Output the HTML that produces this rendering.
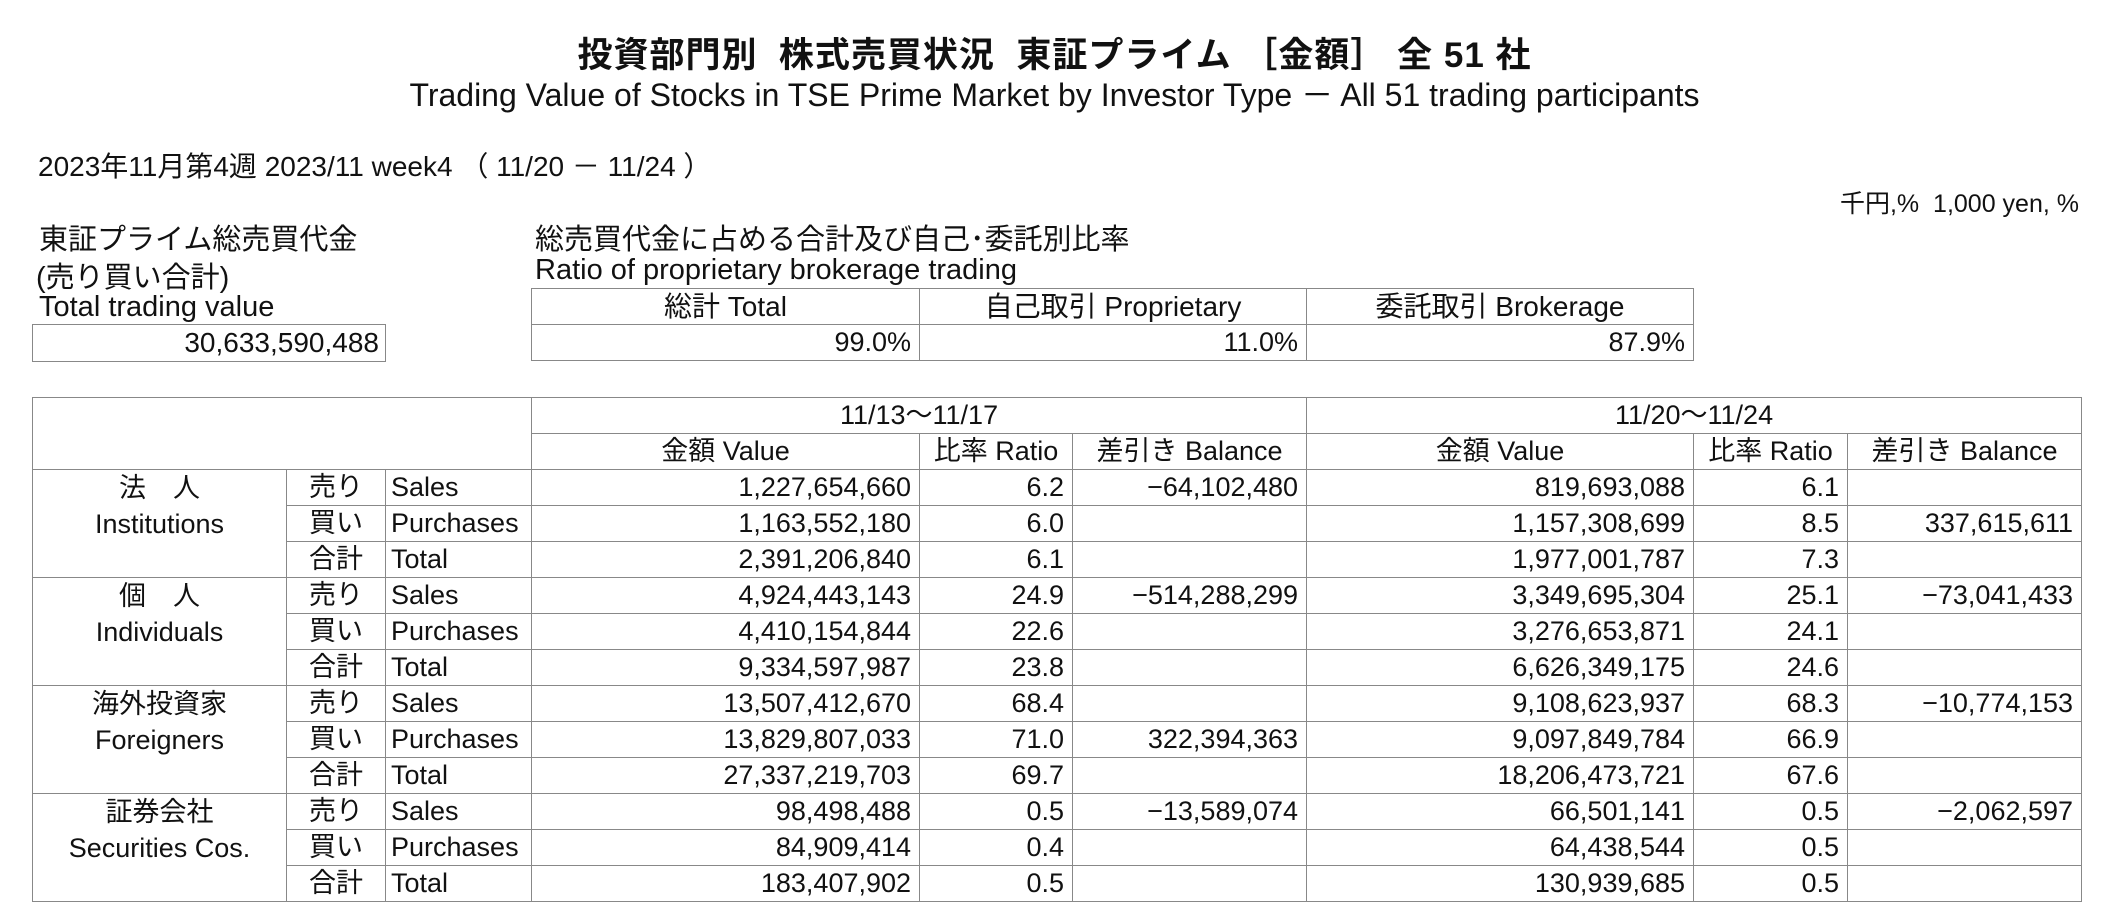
<!DOCTYPE html>
<html><head><meta charset="utf-8"><style>
body{margin:0;width:2109px;height:918px;background:#fff;position:relative;overflow:hidden;font-family:"Liberation Sans","Noto Sans CJK JP",sans-serif;color:#111}
.a{position:absolute;white-space:nowrap}
table{border-collapse:collapse;table-layout:fixed;position:absolute}
td{border:1.5px solid #888;padding:0 8px;font-size:27px;height:35px;line-height:35px;white-space:nowrap;overflow:hidden}
.r{text-align:right}.c{text-align:center}.l{text-align:left;padding-left:5px}
.g{vertical-align:top;text-align:center;line-height:36px;padding:0}
</style></head><body>
<div class="a" style="left:0;width:2109px;text-align:center;top:27px;font-size:35px;font-weight:bold;letter-spacing:1px">投資部門別&nbsp; 株式売買状況&nbsp; 東証プライム ［金額］ 全 51 社</div>
<div class="a" style="left:0;width:2109px;text-align:center;top:70px;font-size:32px">Trading Value of Stocks in TSE Prime Market by Investor Type － All 51 trading participants</div>
<div class="a" style="left:38px;top:145px;font-size:28px">2023年11月第4週 2023/11 week4 （ 11/20 － 11/24 ）</div>
<div class="a" style="right:30px;top:184px;font-size:25px">千円,%&nbsp; 1,000 yen, %</div>
<div class="a" style="left:39px;top:216px;font-size:29px">東証プライム総売買代金</div>
<div class="a" style="left:36px;top:254px;font-size:29px">(売り買い合計)</div>
<div class="a" style="left:39px;top:291px;font-size:29px">Total trading value</div>
<div class="a" style="left:32px;top:324px;width:352px;height:36px;border:1.5px solid #888;font-size:28px;text-align:right;line-height:36px"><span style="padding-right:6px">30,633,590,488</span></div>
<div class="a" style="left:535px;top:216px;font-size:29px">総売買代金に占める合計及び自己･委託別比率</div>
<div class="a" style="left:535px;top:254px;font-size:29px">Ratio of proprietary brokerage trading</div>
<table style="left:531px;top:288px;width:1162px">
<colgroup><col style="width:388px"><col style="width:387px"><col style="width:387px"></colgroup>
<tr><td class="c" style="font-size:28px">総計 Total</td><td class="c" style="font-size:28px">自己取引 Proprietary</td><td class="c" style="font-size:28px">委託取引 Brokerage</td></tr>
<tr><td class="r">99.0%</td><td class="r">11.0%</td><td class="r">87.9%</td></tr>
</table>
<table style="left:32px;top:397px;width:2049px">
<colgroup><col style="width:254px"><col style="width:99px"><col style="width:146px"><col style="width:388px"><col style="width:153px"><col style="width:234px"><col style="width:387px"><col style="width:154px"><col style="width:234px"></colgroup>
<tr><td colspan="3" rowspan="2"></td><td colspan="3" class="c">11/13～11/17</td><td colspan="3" class="c">11/20～11/24</td></tr>
<tr><td class="c">金額 Value</td><td class="c" style="padding:0">比率 Ratio</td><td class="c" style="padding:0">差引き Balance</td><td class="c">金額 Value</td><td class="c" style="padding:0">比率 Ratio</td><td class="c" style="padding:0">差引き Balance</td></tr>

<tr><td rowspan="3" class="g">法　人<br>Institutions</td><td class="c">売り</td><td class="l">Sales</td><td class="r">1,227,654,660</td><td class="r">6.2</td><td class="r">−64,102,480</td><td class="r">819,693,088</td><td class="r">6.1</td><td class="r"></td></tr>
<tr><td class="c">買い</td><td class="l">Purchases</td><td class="r">1,163,552,180</td><td class="r">6.0</td><td class="r"></td><td class="r">1,157,308,699</td><td class="r">8.5</td><td class="r">337,615,611</td></tr>
<tr><td class="c">合計</td><td class="l">Total</td><td class="r">2,391,206,840</td><td class="r">6.1</td><td class="r"></td><td class="r">1,977,001,787</td><td class="r">7.3</td><td class="r"></td></tr>

<tr><td rowspan="3" class="g">個　人<br>Individuals</td><td class="c">売り</td><td class="l">Sales</td><td class="r">4,924,443,143</td><td class="r">24.9</td><td class="r">−514,288,299</td><td class="r">3,349,695,304</td><td class="r">25.1</td><td class="r">−73,041,433</td></tr>
<tr><td class="c">買い</td><td class="l">Purchases</td><td class="r">4,410,154,844</td><td class="r">22.6</td><td class="r"></td><td class="r">3,276,653,871</td><td class="r">24.1</td><td class="r"></td></tr>
<tr><td class="c">合計</td><td class="l">Total</td><td class="r">9,334,597,987</td><td class="r">23.8</td><td class="r"></td><td class="r">6,626,349,175</td><td class="r">24.6</td><td class="r"></td></tr>

<tr><td rowspan="3" class="g">海外投資家<br>Foreigners</td><td class="c">売り</td><td class="l">Sales</td><td class="r">13,507,412,670</td><td class="r">68.4</td><td class="r"></td><td class="r">9,108,623,937</td><td class="r">68.3</td><td class="r">−10,774,153</td></tr>
<tr><td class="c">買い</td><td class="l">Purchases</td><td class="r">13,829,807,033</td><td class="r">71.0</td><td class="r">322,394,363</td><td class="r">9,097,849,784</td><td class="r">66.9</td><td class="r"></td></tr>
<tr><td class="c">合計</td><td class="l">Total</td><td class="r">27,337,219,703</td><td class="r">69.7</td><td class="r"></td><td class="r">18,206,473,721</td><td class="r">67.6</td><td class="r"></td></tr>

<tr><td rowspan="3" class="g">証券会社<br>Securities Cos.</td><td class="c">売り</td><td class="l">Sales</td><td class="r">98,498,488</td><td class="r">0.5</td><td class="r">−13,589,074</td><td class="r">66,501,141</td><td class="r">0.5</td><td class="r">−2,062,597</td></tr>
<tr><td class="c">買い</td><td class="l">Purchases</td><td class="r">84,909,414</td><td class="r">0.4</td><td class="r"></td><td class="r">64,438,544</td><td class="r">0.5</td><td class="r"></td></tr>
<tr><td class="c">合計</td><td class="l">Total</td><td class="r">183,407,902</td><td class="r">0.5</td><td class="r"></td><td class="r">130,939,685</td><td class="r">0.5</td><td class="r"></td></tr>
</table>
</body></html>
